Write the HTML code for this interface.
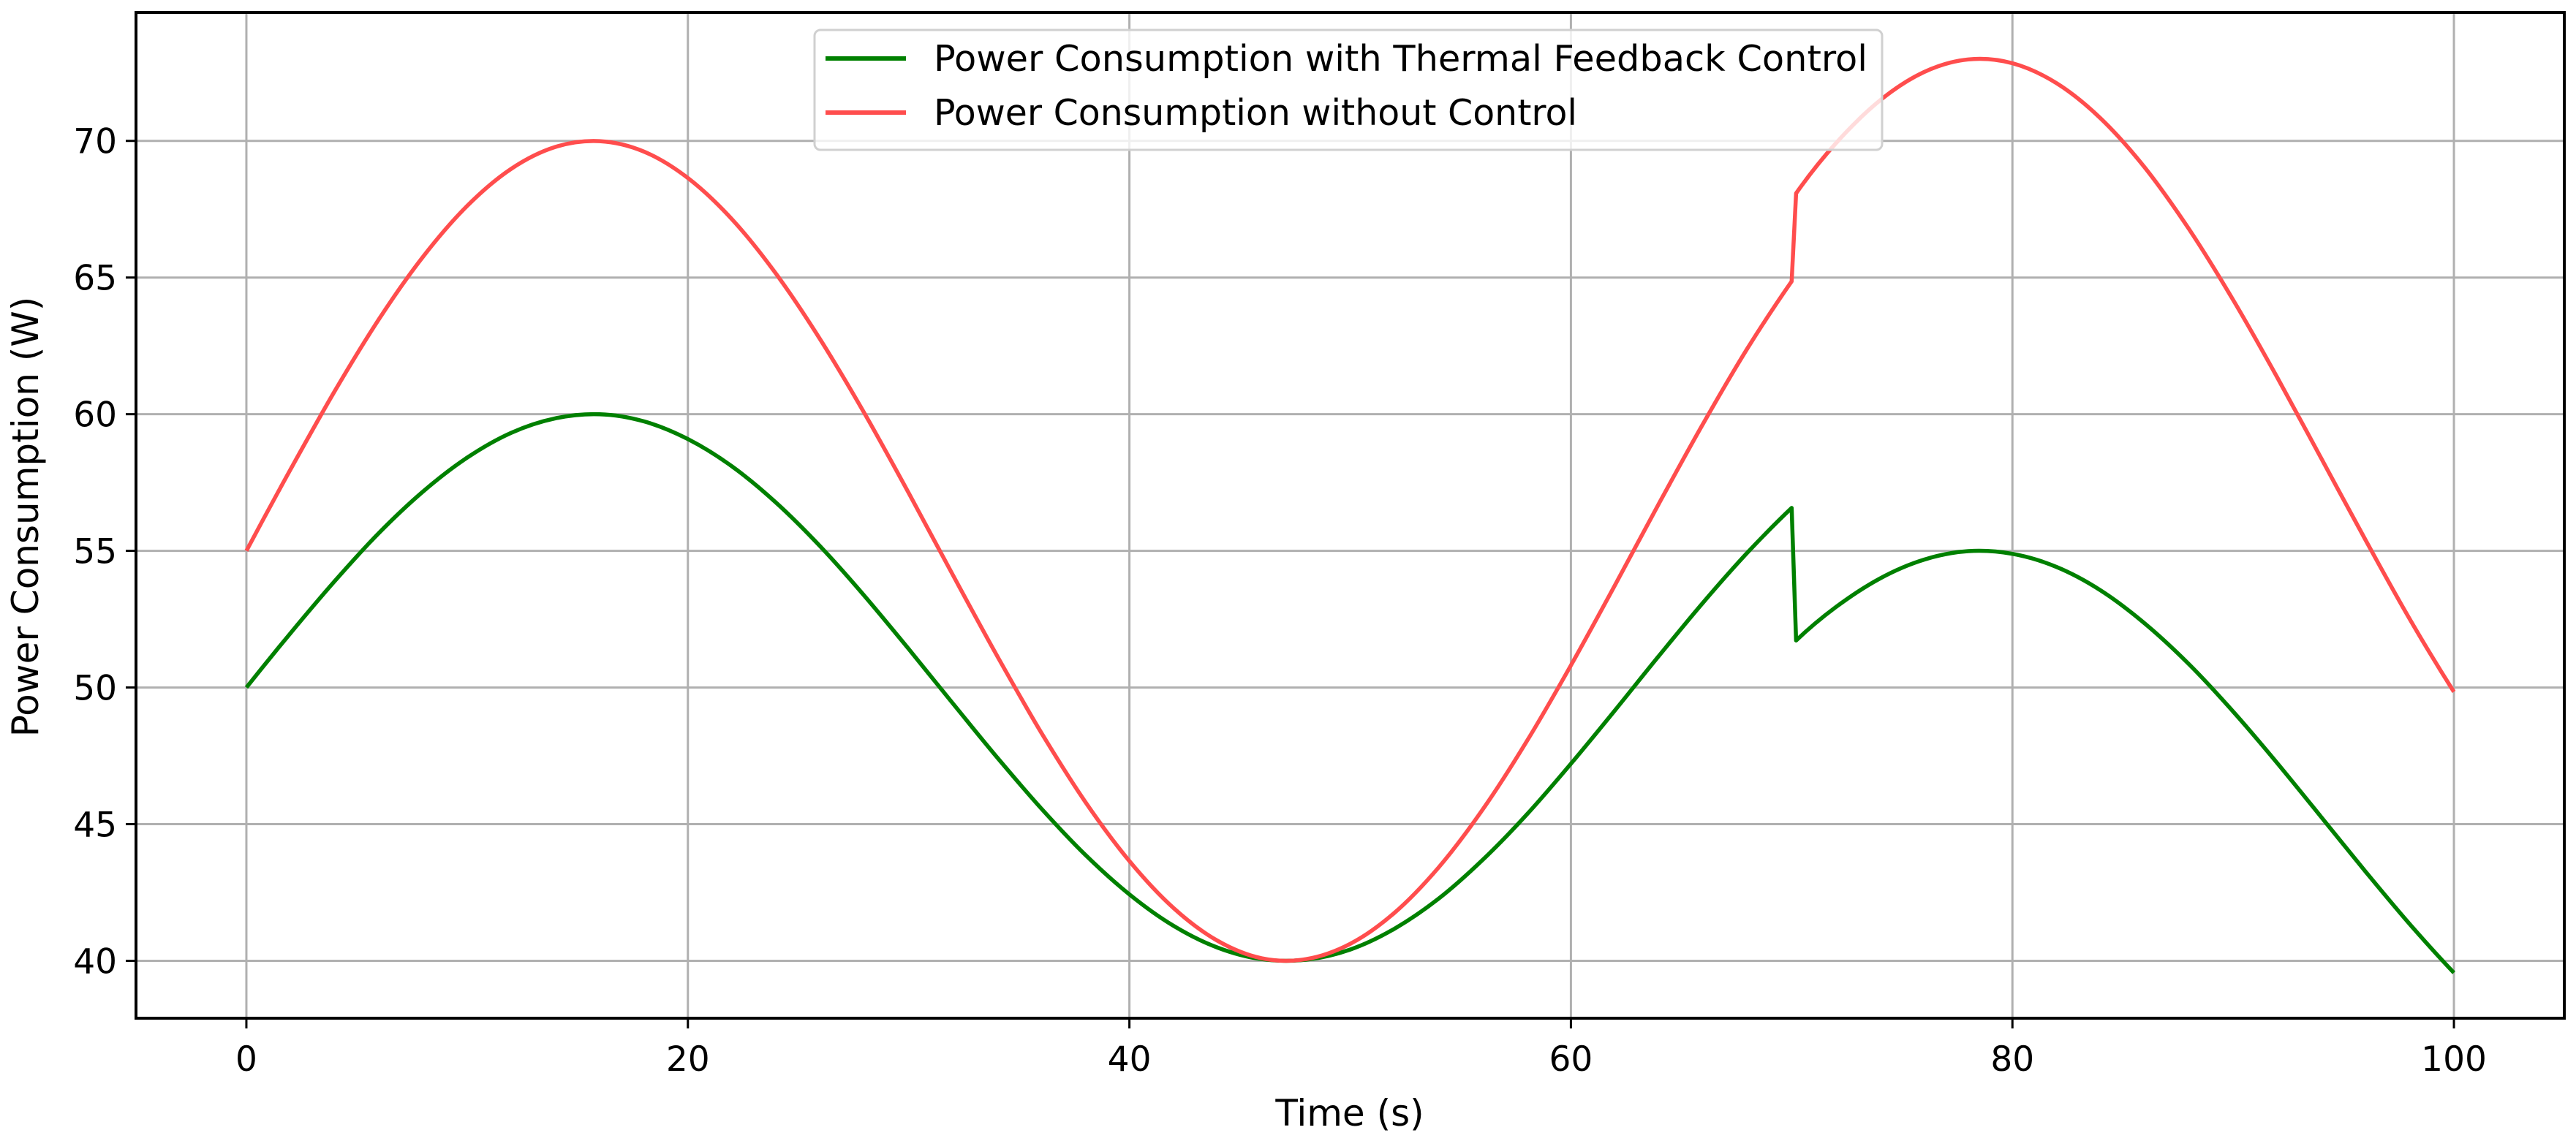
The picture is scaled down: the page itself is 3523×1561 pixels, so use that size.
<!DOCTYPE html>
<html><head><meta charset="utf-8"><style>
html,body{margin:0;padding:0;background:#fff;}
svg{display:block;font-family:"DejaVu Sans","Liberation Sans",sans-serif;}
</style></head><body>
<svg id="chart" width="3523" height="1561" viewBox="0 0 3523 1561" xmlns="http://www.w3.org/2000/svg">
<rect width="3523" height="1561" fill="#fff"/>
<g id="grid"></g>
<g id="series"></g>
<rect x="186" y="17" width="3321" height="1376" fill="none" stroke="#000" stroke-width="4"/>
<g id="ticks"></g>
<text x="1846" y="1540" font-size="50" text-anchor="middle" fill="#000">Time (s)</text>
<text transform="translate(52,707) rotate(-90)" font-size="50" text-anchor="middle" fill="#000">Power Consumption (W)</text>
<g>
<rect x="1114" y="41" width="1460" height="164" rx="8" fill="#fff" fill-opacity="0.8" stroke="#d0d0d0" stroke-width="3"/>
<line x1="1129" y1="80" x2="1239" y2="80" stroke="#008000" stroke-width="6"/>
<text x="1277" y="97" font-size="49" textLength="1277" lengthAdjust="spacingAndGlyphs" fill="#000">Power Consumption with Thermal Feedback Control</text>
<line x1="1129" y1="154" x2="1239" y2="154" stroke="#ff4d4d" stroke-width="6"/>
<text x="1277" y="171" font-size="49" textLength="880" lengthAdjust="spacingAndGlyphs" fill="#000">Power Consumption without Control</text>
</g>
</svg>
<script>
const times=[0,2,4,6,8,10,12,14,16,18,20,22,24,26,28,30,32,34,36,38,40,42,44,46,48,50,52,54,56,58,60,62,64,66,68,70,70.2,72,74,76,78,80,82,84,86,88,90,92,94,96,98,100];
const greenValues=[50,51.99,53.89,55.65,57.17,58.41,59.32,59.85,60.00,59.74,59.09,58.09,56.76,55.16,53.35,51.41,49.42,47.45,45.58,43.88,42.43,41.28,40.48,40.06,40.04,40.41,41.17,42.27,43.69,45.35,47.21,49.17,51.17,53.12,54.94,56.57,51.72,52.94,53.99,54.68,54.99,54.89,54.41,53.55,52.34,50.85,49.12,47.23,45.25,43.26,41.34,39.56];
const redValues=[55,57.98,60.84,63.47,65.76,67.62,68.98,69.78,69.99,69.61,68.64,67.13,65.13,62.73,60.03,57.12,54.12,51.17,48.36,45.82,43.65,41.93,40.73,40.09,40.06,40.62,41.75,43.41,45.53,48.03,50.81,53.75,56.75,59.67,62.41,64.86,68.08,69.91,71.48,72.52,72.98,72.84,72.11,70.82,69.02,66.77,64.18,61.34,58.37,55.39,52.50,49.84];
const xTicks=[0,20,40,60,80,100];
const yTicks=[40,45,50,55,60,65,70];
const NS="http://www.w3.org/2000/svg";
const X0=186,X1=3507,Y0=1393,Y1=17,xmin=-5,xmax=105,ymin=37.9,ymax=74.7;
function sx(v){return X0+(v-xmin)/(xmax-xmin)*(X1-X0);}
function sy(v){return Y0-(v-ymin)/(ymax-ymin)*(Y0-Y1);}
function mk(tag,attrs,parent){const e=document.createElementNS(NS,tag);for(const k in attrs)e.setAttribute(k,attrs[k]);parent.appendChild(e);return e;}
const grid=document.getElementById('grid'),ticks=document.getElementById('ticks'),series=document.getElementById('series');
xTicks.forEach(t=>{
  const g=mk('line',{x1:sx(t),x2:sx(t),y1:Y1,y2:Y0,stroke:'#b0b0b0','stroke-width':3},grid);
  
  
  const tk=mk('line',{x1:sx(t),x2:sx(t),y1:Y0,y2:Y0+14,stroke:'#000','stroke-width':3},ticks);
  
  
  const tx=mk('text',{x:sx(t),y:1465,'font-size':47,'text-anchor':'middle',fill:'#000'},ticks);
  tx.textContent=t;
  
  
});
yTicks.forEach(t=>{
  const g=mk('line',{x1:X0,x2:X1,y1:sy(t),y2:sy(t),stroke:'#b0b0b0','stroke-width':3},grid);
  
  
  const tk=mk('line',{x1:X0-14,x2:X0,y1:sy(t),y2:sy(t),stroke:'#000','stroke-width':3},ticks);
  
  
  const tx=mk('text',{x:X0-26,y:sy(t)+17,'font-size':47,'text-anchor':'end',fill:'#000'},ticks);
  tx.textContent=t;
  
  
});
function buildPath(xs,ys){
  const pts=xs.map((t,i)=>[sx(t),sy(ys[i]),t]);
  const segs=[];let cur=[pts[0]];
  for(let i=1;i<pts.length;i++){if(pts[i][2]-pts[i-1][2]<1){segs.push(cur);cur=[pts[i]];}else cur.push(pts[i]);}
  segs.push(cur);
  let d='M'+pts[0][0].toFixed(1)+','+pts[0][1].toFixed(1);
  segs.forEach((s,si)=>{
    if(si>0)d+='L'+s[0][0].toFixed(1)+','+s[0][1].toFixed(1);
    const n=s.length;
    for(let i=0;i<n-1;i++){
      const p1=s[i],p2=s[i+1];
      const p0=i>0?s[i-1]:(n>2?[3*s[0][0]-3*s[1][0]+s[2][0],3*s[0][1]-3*s[1][1]+s[2][1]]:[2*p1[0]-p2[0],2*p1[1]-p2[1]]);
      const p3=i+2<n?s[i+2]:(n>2?[3*s[n-1][0]-3*s[n-2][0]+s[n-3][0],3*s[n-1][1]-3*s[n-2][1]+s[n-3][1]]:[2*p2[0]-p1[0],2*p2[1]-p1[1]]);
      const c1x=p1[0]+(p2[0]-p0[0])/6,c1y=p1[1]+(p2[1]-p0[1])/6;
      const c2x=p2[0]-(p3[0]-p1[0])/6,c2y=p2[1]-(p3[1]-p1[1])/6;
      d+='C'+c1x.toFixed(1)+','+c1y.toFixed(1)+' '+c2x.toFixed(1)+','+c2y.toFixed(1)+' '+p2[0].toFixed(1)+','+p2[1].toFixed(1);
    }
  });
  return d;
}
const gp=mk('path',{d:buildPath(times,greenValues),fill:'none',stroke:'#008000','stroke-width':5.5,'stroke-linejoin':'round'},series);


const rp=mk('path',{d:buildPath(times,redValues),fill:'none',stroke:'#ff4d4d','stroke-width':5.5,'stroke-linejoin':'round'},series);


</script>
</body></html>
